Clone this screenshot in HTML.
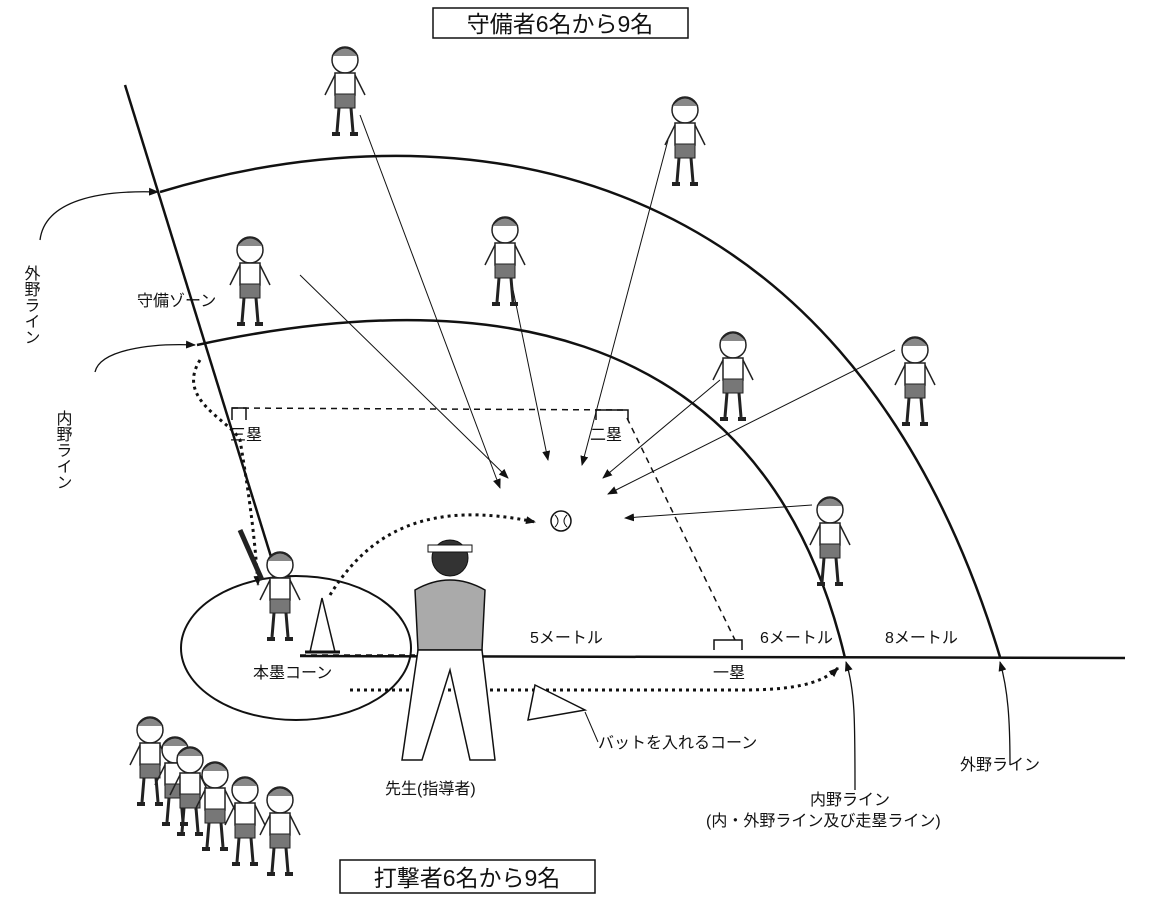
<!DOCTYPE html>
<html><head><meta charset="utf-8"><style>
html,body{margin:0;padding:0;background:#fff;}
svg{display:block;}
text{font-family:"Liberation Sans","Noto Sans CJK JP",sans-serif;fill:#111;}
</style></head><body>
<svg width="1168" height="910" viewBox="0 0 1168 910" xmlns="http://www.w3.org/2000/svg">
<defs>
<marker id="a" markerWidth="10" markerHeight="8" refX="9" refY="4" orient="auto" markerUnits="userSpaceOnUse"><path d="M0,0 L10,4 L0,8 Z" fill="#111"/></marker>
<g id="kid">
<circle cx="0" cy="-40" r="13" fill="#fff" stroke="#222" stroke-width="1.5"/>
<path d="M-13,-44 Q0,-60 13,-44" fill="#888" stroke="#222"/>
<rect x="-10" y="-27" width="20" height="22" fill="#fff" stroke="#222" stroke-width="1.5"/>
<path d="M-10,-25 L-20,-5 M10,-25 L20,-5" stroke="#222" stroke-width="1.5"/>
<rect x="-10" y="-6" width="20" height="14" fill="#777" stroke="#222"/>
<path d="M-6,8 L-8,32 M6,8 L8,32" stroke="#222" stroke-width="3"/>
<path d="M-13,34 h8 M5,34 h8" stroke="#222" stroke-width="4"/>
</g>
</defs>
<rect width="1168" height="910" fill="#fff"/>

<!-- title boxes -->
<rect x="433" y="8" width="255" height="30" fill="#fff" stroke="#111" stroke-width="1.5"/>
<text x="560" y="32" font-size="23" text-anchor="middle">守備者6名から9名</text>
<rect x="340" y="860" width="255" height="33" fill="#fff" stroke="#111" stroke-width="1.5"/>
<text x="467" y="886" font-size="23" text-anchor="middle">打撃者6名から9名</text>

<!-- foul line left -->
<path d="M125,85 L272,560" stroke="#111" stroke-width="2.5" fill="none"/>
<!-- baseline -->
<path d="M300,656 L1125,658" stroke="#111" stroke-width="2.5" fill="none"/>
<!-- outer arc -->
<path d="M160,192 C430,110 840,130 1000,657" stroke="#111" stroke-width="2.5" fill="none"/>
<!-- inner arc -->
<path d="M197,345 C450,290 760,300 845,658" stroke="#111" stroke-width="2.5" fill="none"/>
<!-- entry arrows -->
<path d="M40,240 C45,200 100,190 158,192" stroke="#111" stroke-width="1.3" fill="none" marker-end="url(#a)"/>
<path d="M95,372 C100,350 150,343 195,345" stroke="#111" stroke-width="1.3" fill="none" marker-end="url(#a)"/>
<path d="M855,790 C855,720 855,690 846,662" stroke="#111" stroke-width="1.3" fill="none" marker-end="url(#a)"/>
<path d="M1010,765 C1010,720 1008,690 1000,662" stroke="#111" stroke-width="1.3" fill="none" marker-end="url(#a)"/>

<!-- dashed diamond -->
<path d="M232,408 L628,410 M627,418 L735,640 M300,655 L415,655" stroke="#111" stroke-width="1.5" stroke-dasharray="6,5" fill="none"/>
<!-- base brackets -->
<path d="M232,420 V408 H246 V420" stroke="#111" fill="none" stroke-width="1.5"/>
<path d="M596,420 V410 H628 V420" stroke="#111" fill="none" stroke-width="1.5"/>
<path d="M714,650 V640 H742 V650" stroke="#111" fill="none" stroke-width="1.5"/>

<!-- home circle -->
<ellipse cx="296" cy="648" rx="115" ry="72" fill="none" stroke="#111" stroke-width="2"/>

<!-- ball -->
<circle cx="561" cy="521" r="10" fill="#fff" stroke="#111" stroke-width="1.5"/>
<path d="M555,515 Q561,521 555,527 M567,515 Q561,521 567,527" stroke="#111" fill="none"/>

<!-- dotted paths -->
<path d="M200,360 C175,400 230,420 240,440 C250,500 255,540 258,585" stroke="#111" stroke-width="3" stroke-dasharray="3,4" fill="none" marker-end="url(#a)"/>
<path d="M330,595 C370,530 430,500 535,522" stroke="#111" stroke-width="3" stroke-dasharray="3,4" fill="none" marker-end="url(#a)"/>
<path d="M350,690 L740,690 C790,690 820,685 838,668" stroke="#111" stroke-width="3" stroke-dasharray="3,4" fill="none" marker-end="url(#a)"/>

<!-- fielder arrows -->
<path d="M360,115 L500,488" stroke="#111" fill="none" marker-end="url(#a)"/>
<path d="M300,275 L508,478" stroke="#111" fill="none" marker-end="url(#a)"/>
<path d="M510,275 L548,460" stroke="#111" fill="none" marker-end="url(#a)"/>
<path d="M668,140 L582,465" stroke="#111" fill="none" marker-end="url(#a)"/>
<path d="M720,380 L603,478" stroke="#111" fill="none" marker-end="url(#a)"/>
<path d="M895,350 L608,494" stroke="#111" fill="none" marker-end="url(#a)"/>
<path d="M812,505 L625,518" stroke="#111" fill="none" marker-end="url(#a)"/>

<!-- fielders -->
<use href="#kid" x="345" y="100"/>
<use href="#kid" x="685" y="150"/>
<use href="#kid" x="505" y="270"/>
<use href="#kid" x="250" y="290"/>
<use href="#kid" x="733" y="385"/>
<use href="#kid" x="915" y="390"/>
<use href="#kid" x="830" y="550"/>
<!-- batter -->
<use href="#kid" x="280" y="605"/>
<path d="M262,580 L240,530" stroke="#222" stroke-width="5"/>
<!-- batters waiting -->
<use href="#kid" x="150" y="770"/>
<use href="#kid" x="175" y="790"/>
<use href="#kid" x="190" y="800"/>
<use href="#kid" x="215" y="815"/>
<use href="#kid" x="245" y="830"/>
<use href="#kid" x="280" y="840"/>

<!-- teacher -->
<circle cx="450" cy="558" r="18" fill="#333" stroke="#111"/>
<rect x="428" y="545" width="44" height="7" fill="#fff" stroke="#111"/>
<path d="M415,590 Q450,570 485,590 L482,650 L418,650 Z" fill="#aaa" stroke="#111" stroke-width="1.5"/>
<path d="M418,650 L402,760 L422,760 L450,670 L470,760 L495,760 L482,650 Z" fill="#fff" stroke="#111" stroke-width="1.5"/>

<!-- cones -->
<path d="M322,598 L310,652 L335,652 Z" fill="#fff" stroke="#111" stroke-width="1.5"/>
<path d="M305,652 h35" stroke="#111" stroke-width="3"/>
<path d="M535,685 L585,710 L528,720 Z" fill="#fff" stroke="#111" stroke-width="1.5"/>

<!-- labels -->
<text font-size="16" x="30" y="265" writing-mode="tb">外野ライン</text>
<text font-size="16" x="62" y="410" writing-mode="tb">内野ライン</text>
<text font-size="16" x="137" y="306">守備ゾーン</text>
<text font-size="16" x="230" y="440">三塁</text>
<text font-size="16" x="590" y="440">二塁</text>
<text font-size="16" x="713" y="678">一塁</text>
<text font-size="16" x="253" y="678">本墨コーン</text>
<text font-size="16" x="530" y="643">5メートル</text>
<text font-size="16" x="760" y="643">6メートル</text>
<text font-size="16" x="885" y="643">8メートル</text>
<text font-size="16" x="598" y="748">バットを入れるコーン</text>
<path d="M585,712 L598,742" stroke="#111"/>
<text font-size="16" x="385" y="794">先生(指導者)</text>
<text font-size="16" x="960" y="770">外野ライン</text>
<text font-size="16" x="810" y="805">内野ライン</text>
<text font-size="16" x="706" y="826">(内・外野ライン及び走塁ライン)</text>
</svg>
</body></html>
